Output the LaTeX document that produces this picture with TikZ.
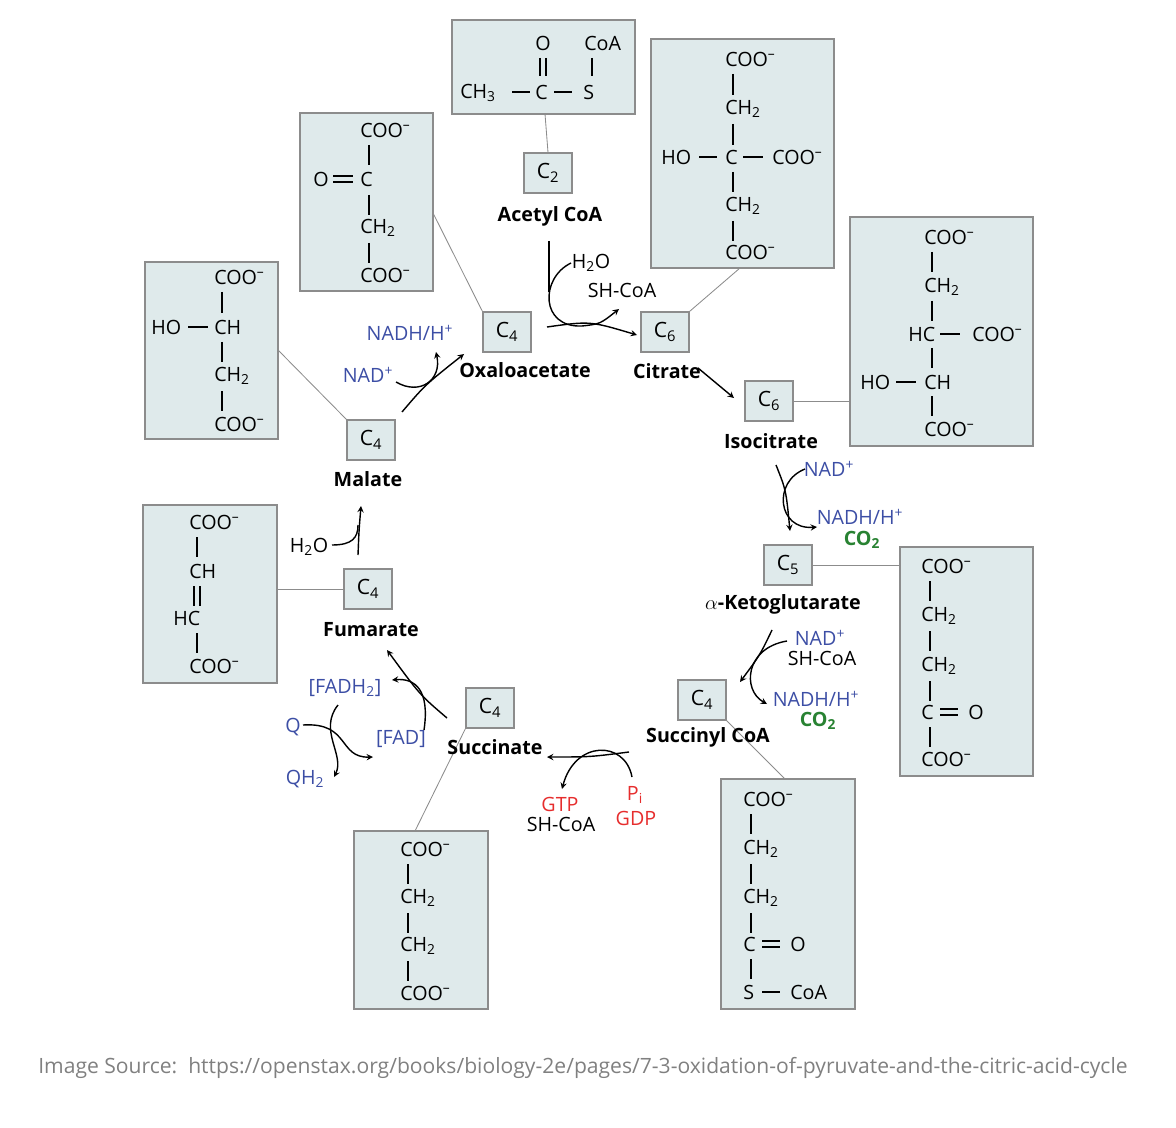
\documentclass[tikz,border=0pt]{standalone}
\usepackage{fontspec}
\setmainfont{Open Sans}
\usetikzlibrary{arrows,positioning}
\definecolor{boxfill}{RGB}{223,234,235}
\definecolor{boxline}{RGB}{140,140,140}
\definecolor{nadblue}{RGB}{60,78,165}
\definecolor{cogreen}{RGB}{40,130,50}
\definecolor{gtpred}{RGB}{230,45,45}
\newcommand\coo{COO\textsuperscript{--}}
\newcommand\chtwo{CH\textsubscript{2}}
\newcommand\vbond[3]{\draw[bond] (#1,#2) -- (#1,#3);}
\newcommand\hbond[3]{\draw[bond] (#1,#3) -- (#2,#3);}
\newcommand\vdbond[3]{\draw[bond] (#1-3,#2) -- (#1-3,#3) (#1+3,#2) -- (#1+3,#3);}
\newcommand\hdbond[3]{\draw[bond] (#1,#3-3) -- (#2,#3-3) (#1,#3+3) -- (#2,#3+3);}
\begin{document}
\begin{tikzpicture}[x=0.025cm, y=-0.025cm,
    every node/.style={inner sep=0pt, font=\fontsize{14}{16}\selectfont},
    molbox/.style={draw=boxline, fill=boxfill, line width=0.8pt},
    cbox/.style={rectangle, draw=boxline, fill=boxfill, line width=0.8pt, minimum width=48*0.025cm, minimum height=40*0.025cm, font=\fontsize{15}{17}\selectfont},
    link/.style={draw=boxline, line width=0.6pt},
    atom/.style={anchor=west},
    bond/.style={line width=0.8pt},
    cname/.style={font=\fontsize{14}{16}\selectfont\bfseries},
    nad/.style={text=nadblue},
    co/.style={text=cogreen, font=\fontsize{14}{16}\selectfont\bfseries},
    red/.style={text=gtpred},
    arrow/.style={line width=1pt,->,>=stealth}
]
\useasboundingbox (0,0) rectangle (1176,1128);

% Structure boxes
\draw[molbox] (452,20) rectangle (635,114);
\draw[molbox] (651,39) rectangle (834,268);
\draw[molbox] (300,113) rectangle (433,291);
\draw[molbox] (145,262) rectangle (278,439);
\draw[molbox] (850,217) rectangle (1033,446);
\draw[molbox] (143,505) rectangle (277,683);
\draw[molbox] (900,547) rectangle (1033,776);
\draw[molbox] (354,831) rectangle (488,1009);
\draw[molbox] (721,779) rectangle (855,1009);

% Acetyl CoA
\node[atom] at (535,43) {O};
\node[atom] at (584,43) {CoA};
\vdbond{543}{58}{76}
\vbond{592}{58}{76}
\node[atom] at (460,93) {CH\textsubscript{3}};
\hbond{512}{530}{92}
\node[atom] at (535,92) {C};
\hbond{554}{572}{92}
\node[atom] at (583,92) {S};

% Citrate
\node[atom] at (725,59) {\coo};
\vbond{733}{74}{95}
\node[atom] at (725,109) {\chtwo};
\vbond{733}{124}{145}
\node[atom] at (661,157) {HO};
\hbond{699}{717}{157}
\node[atom] at (725,157) {C};
\hbond{743}{763}{157}
\node[atom] at (772,157) {\coo};
\vbond{733}{172}{192}
\node[atom] at (725,206) {\chtwo};
\vbond{733}{221}{241}
\node[atom] at (725,252) {\coo};

% Oxaloacetate
\node[atom] at (360,130) {\coo};
\vbond{369}{145}{165}
\node[atom] at (313,179) {O};
\hdbond{333}{353}{179}
\node[atom] at (360,179) {C};
\vbond{369}{195}{215}
\node[atom] at (360,228) {\chtwo};
\vbond{369}{243}{263}
\node[atom] at (360,275) {\coo};

% Malate
\node[atom] at (214,277) {\coo};
\vbond{222}{292}{313}
\node[atom] at (151,327) {HO};
\hbond{188}{208}{327}
\node[atom] at (214,327) {CH};
\vbond{222}{342}{362}
\node[atom] at (214,376) {\chtwo};
\vbond{222}{391}{411}
\node[atom] at (214,424) {\coo};

% Isocitrate
\node[atom] at (924,237) {\coo};
\vbond{932}{252}{272}
\node[atom] at (924,287) {\chtwo};
\vbond{932}{301}{321}
\node[atom] at (908,334) {HC};
\hbond{940}{960}{334}
\node[atom] at (972,334) {\coo};
\vbond{932}{348}{368}
\node[atom] at (860,382) {HO};
\hbond{896}{916}{382}
\node[atom] at (924,382) {CH};
\vbond{932}{396}{416}
\node[atom] at (924,429) {\coo};

% Fumarate
\node[atom] at (189,522) {\coo};
\vbond{197}{537}{557}
\node[atom] at (189,571) {CH};
\vdbond{197}{586}{606}
\node[atom] at (173,618) {HC};
\vbond{197}{633}{653}
\node[atom] at (189,666) {\coo};

% alpha-Ketoglutarate
\node[atom] at (921,566) {\coo};
\vbond{930}{581}{601}
\node[atom] at (921,616) {\chtwo};
\vbond{930}{631}{651}
\node[atom] at (921,666) {\chtwo};
\vbond{930}{681}{701}
\node[atom] at (921,712) {C};
\hdbond{940}{958}{712}
\node[atom] at (968,712) {O};
\vbond{930}{727}{747}
\node[atom] at (921,759) {\coo};

% Succinate
\node[atom] at (400,849) {\coo};
\vbond{408}{864}{884}
\node[atom] at (400,898) {\chtwo};
\vbond{408}{913}{933}
\node[atom] at (400,946) {\chtwo};
\vbond{408}{961}{981}
\node[atom] at (400,993) {\coo};

% Succinyl CoA
\node[atom] at (743,799) {\coo};
\vbond{751}{814}{834}
\node[atom] at (743,849) {\chtwo};
\vbond{751}{864}{884}
\node[atom] at (743,898) {\chtwo};
\vbond{751}{913}{933}
\node[atom] at (743,944) {C};
\hdbond{762}{780}{944}
\node[atom] at (790,944) {O};
\vbond{751}{959}{979}
\node[atom] at (743,992) {S};
\hbond{762}{780}{992}
\node[atom] at (790,992) {CoA};

% Carbon count boxes
\node[cbox] (ctwo) at (548,173) {C\textsubscript{2}};
\node[cbox] (coxa) at (507,332) {C\textsubscript{4}};
\node[cbox] (ccit) at (665,332) {C\textsubscript{6}};
\node[cbox] (ciso) at (769,401) {C\textsubscript{6}};
\node[cbox] (cakg) at (788,565) {C\textsubscript{5}};
\node[cbox] (cscoa) at (702,700) {C\textsubscript{4}};
\node[cbox] (csuc) at (490,708) {C\textsubscript{4}};
\node[cbox] (cfum) at (368,589) {C\textsubscript{4}};
\node[cbox] (cmal) at (371,440) {C\textsubscript{4}};

% Links to structures
\draw[link] (545,114) -- (ctwo.north);
\draw[link] (433,213) -- (coxa.north west);
\draw[link] (740,268) -- (ccit.north east);
\draw[link] (278,350) -- (cmal.north west);
\draw[link] (ciso.east) -- (850,401);
\draw[link] (cakg.east) -- (900,565);
\draw[link] (cscoa.south east) -- (785,779);
\draw[link] (csuc.south west) -- (415,831);
\draw[link] (cfum.west) -- (277,589);

% Compound names
\node[cname] (acetyl) at (550,216) {Acetyl CoA};
\node[cname] (oxa) at (525,370) {Oxaloacetate};
\node[cname] (cit) at (667,371) {Citrate};
\node[cname] (iso) at (771,441) {Isocitrate};
\node[cname] (akg) at (783,604) {$\alpha$-Ketoglutarate};
\node[cname] (scoa) at (708,737) {Succinyl CoA};
\node[cname] (suc) at (495,747) {Succinate};
\node[cname] (fum) at (371,630) {Fumarate};
\node[cname] (mal) at (368,479) {Malate};

% Co-substrates
\node (h2oa) at (591,263) {H\textsubscript{2}O};
\node (shcoaa) at (622,290) {SH-CoA};
\node[nad] (nadha) at (410,333) {NADH/H\textsuperscript{+}};
\node[nad] (nada) at (368,375) {NAD\textsuperscript{+}};
\node[nad] (nadb) at (829,469) {NAD\textsuperscript{+}};
\node[nad] (nadhb) at (860,517) {NADH/H\textsuperscript{+}};
\node[co] (cob) at (862,540) {CO\textsubscript{2}};
\node[nad] (nadc) at (820,638) {NAD\textsuperscript{+}};
\node (shcoac) at (822,658) {SH-CoA};
\node[nad] (nadhc) at (816,699) {NADH/H\textsuperscript{+}};
\node[co] (coc) at (818,721) {CO\textsubscript{2}};
\node[red] (gtp) at (560,804) {GTP};
\node (shcoad) at (561,824) {SH-CoA};
\node[red] (pi) at (635,795) {P\textsubscript{i}};
\node[red] (gdp) at (636,818) {GDP};
\node[nad] (fadh) at (345,688) {[FADH\textsubscript{2}]};
\node[nad] (q) at (293,727) {Q};
\node[nad] (fad) at (401,739) {[FAD]};
\node[nad] (qh) at (305,779) {QH\textsubscript{2}};
\node (h2ob) at (309,547) {H\textsubscript{2}O};

% Reaction arrows
\draw[line width=1pt] (549,241) -- (549,292);
\draw[arrow] (547,327) .. controls (590,321) .. (637,335);
\draw[arrow] (571,263) .. controls (540,278) and (540,328) .. (582,326) .. controls (600,324) .. (619,309);
\draw[arrow] (698,368) -- (734,398);
\draw[arrow] (776,465) .. controls (786,490) .. (790,531);
\draw[arrow] (805,469) .. controls (772,482) and (778,530) .. (817,527);
\draw[arrow] (772,630) .. controls (760,655) .. (740,682);
\draw[arrow] (787,641) .. controls (745,648) and (742,690) .. (767,704);
\draw[arrow] (629,752) .. controls (590,757) .. (547,757);
\draw[arrow] (632,777) .. controls (625,740) and (575,740) .. (562,789);
\draw[arrow] (447,718) .. controls (420,695) .. (387,650);
\draw[arrow] (424,730) .. controls (430,690) and (415,678) .. (392,680);
\draw[arrow] (303,725) .. controls (350,722) and (338,758) .. (373,757);
\draw[arrow] (338,705) .. controls (318,730) and (345,755) .. (334,777);
\draw[arrow] (358,555) .. controls (359,530) .. (361,506);
\draw[line width=1pt] (332,545) .. controls (352,545) and (358,538) .. (358,525);
\draw[arrow] (402,412) .. controls (425,385) .. (464,354);
\draw[arrow] (396,382) .. controls (420,396) and (442,380) .. (436,352);

% Source
\node[anchor=west, text=gray, font=\fontsize{15}{17}\selectfont] (src) at (38,1068) {Image Source:\ \ https://openstax.org/books/biology-2e/pages/7-3-oxidation-of-pyruvate-and-the-citric-acid-cycle};
\end{tikzpicture}
\end{document}
